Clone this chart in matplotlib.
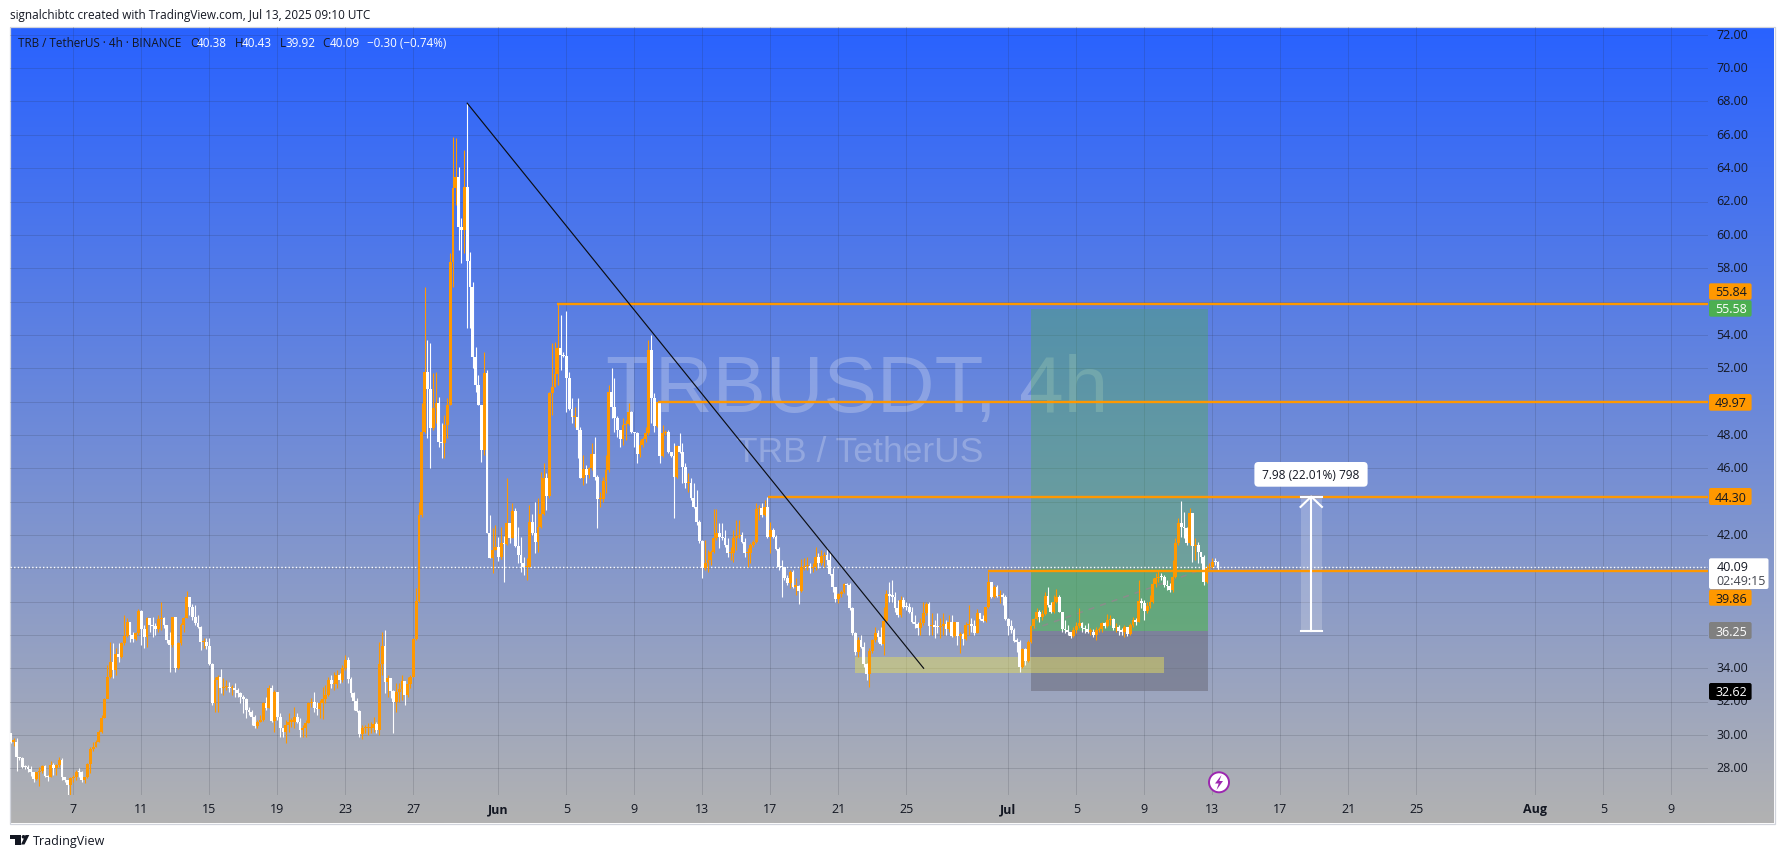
import numpy as np
import matplotlib
matplotlib.use("Agg")
import matplotlib.pyplot as plt
from matplotlib.patches import Rectangle, FancyBboxPatch, Circle, Polygon
from matplotlib.transforms import ScaledTranslation

# ---------- data: 4h candles from 3 May 2025 08:00 (open of the first bar = first_open) ----------
first_open = 30.1
closes = [
 29.6,29.6,28.65,28.6,28.1,28.05,27.95,27.75,27.35,27.75,
 27.85,28.15,27.55,27.45,28.2,28.0,28.2,28.5,27.45,27.3,
 27.0,27.4,27.45,27.8,27.75,27.3,27.45,28.25,29.15,29.3,
 29.6,30.15,31.0,32.15,33.45,34.4,33.9,34.85,34.7,35.5,
 35.95,36.8,36.0,35.75,36.1,37.45,36.35,35.9,37.0,36.6,
 36.55,36.35,36.95,37.0,36.6,35.7,35.4,37.05,34.0,35.5,
 36.6,37.0,38.3,37.7,37.05,36.7,36.5,35.55,35.6,35.35,
 34.25,31.9,33.3,33.45,32.8,32.85,32.85,32.8,32.8,32.7,
 32.5,32.3,32.15,31.5,31.4,31.1,30.55,30.8,30.9,31.9,
 31.6,32.8,30.85,32.6,31.1,30.4,30.15,30.6,30.8,30.8,
 31.1,30.8,30.3,30.4,30.7,31.9,32.0,31.6,31.55,31.9,
 32.15,32.4,33.3,33.05,33.05,33.6,33.3,34.0,34.5,33.35,
 32.5,32.05,31.45,30.05,30.4,30.4,30.4,30.4,30.65,30.3,
 34.25,35.35,33.15,33.4,32.65,32.0,32.55,32.75,33.25,32.4,
 33.05,33.5,35.75,38.05,43.2,48.2,51.8,50.75,48.4,49.6,
 49.9,47.6,47.5,48.6,49.8,58.4,62.8,63.5,60.5,60.3,
 62.9,58.45,56.9,52.7,51.0,49.8,47.1,51.7,42.1,40.6,
 41.1,41.3,40.7,41.5,41.45,42.7,41.8,43.45,41.35,40.8,
 40.3,40.05,40.05,42.8,42.1,41.6,42.45,43.25,45.4,44.35,
 50.5,50.9,51.65,53.2,52.8,52.75,51.4,49.55,49.05,49.1,
 48.3,45.4,45.95,45.6,46.0,46.85,45.5,44.15,44.15,45.25,
 45.9,50.55,49.7,49.0,48.3,47.75,48.6,48.65,49.4,48.15,
 48.1,46.85,47.4,47.75,48.1,53.1,50.2,48.55,50.0,46.75,
 48.1,48.2,46.95,46.75,45.5,47.35,47.0,46.1,45.1,45.1,
 44.2,43.65,42.8,41.65,40.0,40.3,40.5,41.0,41.8,42.1,
 41.85,41.8,41.4,40.9,40.9,41.8,41.95,42.0,41.6,40.9,
 40.9,41.4,41.55,43.55,43.6,43.2,43.7,41.9,42.3,41.9,
 41.15,40.1,40.05,39.4,39.1,39.8,38.9,38.95,38.65,40.05,
 40.15,40.15,40.0,40.05,40.65,40.3,40.75,40.8,40.5,39.65,
 38.85,38.15,38.45,38.6,39.05,39.0,37.6,36.1,34.95,35.7,
 35.3,34.25,33.65,35.05,35.7,36.1,35.85,35.45,36.85,38.45,
 38.35,38.3,37.6,37.2,38.1,37.7,37.65,37.4,36.75,36.65,
 36.4,36.7,37.3,37.85,36.55,36.55,36.5,36.45,36.55,36.65,
 36.35,36.75,35.95,36.75,35.95,36.05,35.75,36.6,36.65,36.55,
 36.1,37.3,36.95,36.85,37.65,39.2,38.3,38.9,38.35,38.4,
 38.3,36.95,36.55,36.3,35.65,35.6,34.1,35.15,34.45,35.55,
 36.55,36.95,37.4,37.05,37.25,38.35,37.8,37.4,38.0,38.25,
 37.4,36.35,36.3,36.2,35.95,36.3,36.55,36.7,36.4,36.35,
 36.2,36.2,36.0,36.3,36.35,36.7,36.55,36.9,36.95,36.4,
 36.5,36.25,36.2,36.5,36.05,36.6,36.9,36.8,38.05,37.9,
 37.45,37.75,37.95,39.05,39.4,39.5,39.45,39.0,38.95,38.7,
 39.5,41.5,42.7,42.5,42.4,41.5,43.3,41.35,41.4,40.95,
 40.7,39.15,40.0,40.1,40.4,40.38,40.09,
]
highs = [
 30.1,29.8,29.8,28.7,28.65,28.2,28.2,28.15,27.8,27.8,
 28.05,28.2,28.2,27.6,28.45,28.3,28.25,28.7,28.6,27.5,
 27.3,27.45,27.6,27.9,28.0,27.85,27.5,28.3,29.3,29.6,
 29.7,30.3,31.2,32.2,34.2,35.6,35.5,35.2,35.5,35.6,
 37.2,37.0,36.8,36.2,36.2,37.55,37.5,36.6,37.1,36.9,
 37.1,36.7,37.2,38.0,37.1,36.6,36.2,37.1,37.0,35.6,
 36.7,37.1,38.65,38.3,37.85,37.8,37.2,36.55,35.8,35.8,
 35.8,34.3,33.5,33.6,33.95,33.4,33.3,33.15,33.0,33.1,
 32.8,32.6,32.4,32.2,31.7,31.5,31.2,30.9,31.2,32.0,
 32.3,33.0,33.0,32.7,32.6,31.3,30.4,30.9,31.3,31.0,
 31.7,31.3,31.0,30.6,30.9,32.0,32.2,32.6,32.0,32.1,
 32.9,33.0,33.5,33.6,33.8,33.9,33.7,34.2,34.8,34.65,
 33.5,32.6,32.2,31.5,30.6,30.6,30.7,30.8,31.1,30.75,
 35.6,36.2,36.3,33.6,33.4,32.7,33.1,33.1,33.6,33.25,
 33.5,33.6,35.8,38.8,43.95,49.9,56.86,53.7,53.5,51.7,
 51.8,50.3,48.7,49.2,50.2,58.9,65.9,65.8,64.1,61.0,
 65.1,67.9,58.95,57.2,53.3,51.6,49.8,53.0,51.9,43.2,
 42.4,42.6,41.9,42.5,41.95,45.4,42.7,43.9,43.6,42.5,
 41.9,40.7,40.6,43.8,43.25,44.0,44.2,45.8,46.3,45.7,
 50.55,53.5,53.6,55.84,55.2,53.0,55.45,51.8,50.2,49.7,
 50.2,48.5,46.8,46.2,46.1,47.5,47.9,45.6,44.6,45.5,
 46.8,51.0,52.0,51.4,49.14,48.3,49.0,48.9,49.9,49.45,
 48.2,48.2,47.7,47.9,48.5,53.7,54.0,50.5,50.0,50.0,
 48.6,48.3,48.3,47.0,47.5,47.4,48.1,47.5,46.3,45.7,
 45.4,45.1,44.7,42.9,41.7,41.7,41.1,41.1,43.55,43.55,
 42.7,42.7,42.3,41.8,41.3,42.3,42.9,42.9,42.2,41.8,
 41.2,41.5,41.7,43.9,43.8,43.9,44.1,44.3,42.8,42.4,
 42.0,41.3,40.5,40.1,39.6,39.9,39.9,39.4,39.0,40.55,
 40.6,40.7,40.3,40.3,41.3,40.9,41.1,41.0,41.2,41.0,
 40.0,38.9,38.5,38.7,39.1,39.1,39.1,37.7,36.2,35.85,
 36.0,35.6,34.3,35.2,35.75,36.5,36.3,36.5,37.7,38.7,
 39.2,39.3,38.6,38.1,38.35,38.3,38.0,37.9,37.7,37.2,
 36.8,37.0,38.0,38.0,38.0,37.3,36.9,37.3,37.0,37.3,
 36.9,37.2,37.2,36.8,36.8,36.2,36.1,36.8,37.8,37.0,
 36.9,37.55,37.3,37.2,37.7,39.8,39.2,39.0,39.0,38.7,
 38.5,38.4,37.0,36.9,36.4,35.8,35.7,35.2,35.2,35.7,
 36.6,37.0,37.6,37.5,37.5,38.6,38.85,38.0,38.4,38.75,
 38.4,37.4,36.9,36.6,36.2,36.5,36.75,37.6,36.8,36.6,
 36.7,36.4,36.35,36.5,36.5,36.8,36.8,37.25,37.2,37.0,
 36.7,36.6,36.4,36.6,36.5,36.7,37.1,37.0,39.3,38.2,
 38.1,38.0,38.4,39.4,39.7,39.9,39.7,39.6,39.3,39.1,
 40.5,41.8,43.0,44.05,43.4,42.5,43.6,43.3,41.8,41.6,
 41.0,40.8,40.2,40.3,40.6,40.6,40.43,
]
lows = [
 29.5,29.35,27.85,28.5,28.0,27.95,27.8,27.55,27.2,27.3,
 26.95,27.7,27.45,27.25,27.45,27.6,27.6,28.1,27.3,27.2,
 26.4,26.4,27.2,27.3,27.5,27.2,27.1,27.4,27.7,29.05,
 29.25,29.55,30.1,31.0,32.2,33.4,33.4,33.6,34.4,34.6,
 35.4,35.9,35.6,35.6,35.7,36.0,35.4,35.2,35.3,36.2,
 35.85,36.0,36.2,36.3,36.4,35.5,33.75,35.3,33.75,33.95,
 35.4,36.2,37.0,37.2,36.9,36.6,36.4,35.1,35.2,35.15,
 34.2,31.8,31.4,31.35,32.5,32.4,32.7,32.55,32.4,32.3,
 32.3,31.9,31.3,31.0,31.2,30.6,30.4,30.4,30.8,30.85,
 31.5,31.6,30.8,30.2,30.9,29.9,29.9,29.5,30.2,30.5,
 30.4,30.7,29.9,29.9,29.9,30.7,31.7,31.4,31.2,31.0,
 30.95,31.9,32.35,32.8,32.7,32.8,33.1,33.2,33.9,33.1,
 32.3,31.5,31.4,29.9,29.75,30.1,30.0,30.1,30.2,30.1,
 30.0,33.6,32.5,32.3,32.2,30.1,31.4,32.0,32.1,31.8,
 32.3,32.8,33.5,35.7,38.0,43.1,48.1,47.8,46.0,48.3,
 48.7,47.3,46.6,46.6,47.8,49.8,56.9,61.8,59.1,58.3,
 58.9,54.4,54.4,52.0,50.6,49.8,46.4,46.8,42.1,40.6,
 39.7,41.1,40.45,40.55,39.2,41.4,41.5,41.8,41.3,40.3,
 39.8,39.6,39.3,40.05,42.0,40.9,41.0,42.4,43.2,43.5,
 44.2,49.2,50.9,51.0,51.9,52.7,49.4,49.5,48.7,48.5,
 46.6,45.4,45.0,45.1,45.4,45.9,45.3,42.4,43.7,44.0,
 44.5,45.8,49.0,48.2,47.9,47.3,47.4,47.7,48.6,48.1,
 47.3,46.3,46.7,47.3,47.6,48.0,48.7,48.2,48.5,46.3,
 46.7,48.0,46.9,46.7,43.0,45.4,46.9,45.1,44.8,44.6,
 44.1,43.6,42.6,41.5,39.4,39.9,39.8,40.2,40.9,41.7,
 41.2,41.7,41.3,40.7,40.5,40.4,41.1,41.8,41.5,40.7,
 40.1,40.3,41.25,41.5,42.9,43.1,43.15,41.8,40.9,41.8,
 41.1,39.9,38.3,39.3,39.0,38.8,38.8,38.4,37.85,38.6,
 39.9,39.9,39.7,39.8,39.9,40.0,40.2,40.1,40.2,39.6,
 38.6,38.0,37.9,38.3,38.5,38.4,37.5,36.0,34.8,34.7,
 35.2,34.1,33.3,32.86,34.9,35.6,35.6,35.4,34.8,36.8,
 38.0,38.0,37.4,37.1,37.1,37.6,37.5,37.3,36.7,36.4,
 36.0,36.0,36.6,37.2,36.0,36.0,35.8,36.1,35.8,36.0,
 36.0,36.2,35.9,35.9,35.4,34.9,35.4,35.7,36.0,36.2,
 36.0,36.1,36.9,36.8,36.8,37.6,38.2,38.2,38.3,37.9,
 37.8,36.9,36.0,36.1,35.55,35.0,33.8,34.0,34.2,34.4,
 35.5,36.4,36.9,36.8,36.9,37.2,37.7,37.3,37.3,37.9,
 37.35,36.2,36.1,36.0,35.8,35.9,36.1,36.4,36.2,36.1,
 36.1,36.0,35.85,35.7,36.2,36.2,36.4,36.5,36.6,36.3,
 36.2,36.0,36.0,35.9,35.95,36.0,36.5,36.6,36.8,37.6,
 36.9,37.3,37.6,37.9,38.9,39.2,39.3,38.9,38.7,38.6,
 38.6,39.4,41.4,41.9,41.8,41.4,41.4,40.4,40.5,40.3,
 40.3,39.0,39.1,39.9,40.0,40.2,39.92,
]
# x is measured in days, with May d = d (June 1 = 32, July 1 = 62, Aug 1 = 93)
first_bar_day = 3 + 8 / 24
bar_step = 4 / 24
tick_days = [7, 11, 15, 19, 23, 27, 32, 36, 40, 44, 48, 52, 56, 62, 66, 70, 74, 78, 82, 86, 93, 97, 101]
tick_labels = ['7', '11', '15', '19', '23', '27', 'Jun', '5', '9', '13', '17', '21', '25',
               'Jul', '5', '9', '13', '17', '21', '25', 'Aug', '5', '9']
price_ticks = list(range(28, 74, 2))
hidden_price_labels = [36, 38, 40, 56]  # the price scale drops these behind the value tags

# drawings
trend_day = [30.17, 57.02]
trend_price = [67.9, 34.0]
levels = [55.84, 49.97, 44.30, 39.86]
level_start_day = [35.48, 41.41, 47.85, 60.8]
last_price = 40.09
pos_days = [63.35, 73.74]
pos_target, pos_entry, pos_stop = 55.58, 36.25, 32.62
pos_progress = 39.95
zone_days = [53.0, 71.14]
zone_prices = [33.72, 34.68]
measure_day = 79.82
measure_width = 1.26
measure_prices = [36.25, 44.30]
dash_days = [63.33, 73.2]
dash_prices = [36.3, 39.85]

# ---------- styles ----------
ORANGE = '#FF9800'
W, H = 1784, 858
FONT = ['Open Sans', 'DejaVu Sans']
plt.rcParams['font.family'] = FONT
TXT = '#131722'

fig = plt.figure(figsize=(W / 100, H / 100), dpi=100, facecolor='white')

# gradient background in pixel coordinates
bg = fig.add_axes([0, 0, 1, 1], zorder=0)
bg.set_xlim(0, W); bg.set_ylim(H, 0); bg.axis('off')
grad = np.linspace(0, 1, 400)[:, None, None]
top = np.array([41, 98, 255]) / 255
bot = np.array([178, 178, 178]) / 255
bg.imshow(top + (bot - top) * grad, extent=(10, 1774, 823, 27), aspect='auto', zorder=0)
bg.set_xlim(0, W); bg.set_ylim(H, 0)
bg.add_patch(Rectangle((9.5, 26.5), 1765, 797, fill=False, ec='#D1D4DC', lw=0.9))
bg.text(857, 391, 'TRBUSDT, 4h', family='Liberation Sans', fontsize=57.6, color='white', alpha=0.24,
        ha='center', va='center')
bg.text(860, 453, 'TRB / TetherUS', family='Liberation Sans', fontsize=25.5, color='white', alpha=0.24,
        ha='center', va='center')

# main price axes
L, R, T, B = 10, 1708, 27, 795
ax = fig.add_axes([L / W, 1 - B / H, (R - L) / W, (B - T) / H], zorder=1, facecolor='none')
px_per_day = 17.0
px_per_price = 16.67
ax.set_xlim(7 - (73.3 - L) / px_per_day, 7 + (R - 73.3) / px_per_day)
ax.set_ylim(28 - (B - 768.3) / px_per_price, 28 + (768.3 - T) / px_per_price)
for s in ax.spines.values():
    s.set_visible(False)
ax.set_xticks(tick_days)
ax.set_xticklabels(tick_labels)
for lab, t in zip(ax.get_xticklabels(), tick_labels):
    lab.set_fontweight('bold' if t in ('Jun', 'Jul', 'Aug') else 'normal')
ax.set_yticks(price_ticks)
ax.set_yticklabels(['' if p in hidden_price_labels else f'{p:.2f}' for p in price_ticks])
ax.yaxis.tick_right()
ax.tick_params(axis='x', length=0, pad=6, labelsize=9, labelcolor=TXT)
ax.tick_params(axis='y', length=0, pad=6, labelsize=9, labelcolor=TXT)
lift = ScaledTranslation(0, 1.2 / 100, fig.dpi_scale_trans)
for lab in ax.get_yticklabels():
    lab.set_transform(lab.get_transform() + lift)
ax.grid(True, color='#2A2E39', alpha=0.16, lw=0.72, zorder=0)
ax.set_axisbelow(True)

# long position + zone
ax.add_patch(Rectangle((pos_days[0], pos_entry), pos_days[1] - pos_days[0], pos_target - pos_entry,
                       fc='#4CAF50', alpha=0.38, ec='none', zorder=1))
ax.add_patch(Rectangle((pos_days[0], pos_entry), pos_days[1] - pos_days[0], pos_progress - pos_entry,
                       fc='#4CAF50', alpha=0.38, ec='none', zorder=1))
ax.add_patch(Rectangle((pos_days[0], pos_stop), pos_days[1] - pos_days[0], pos_entry - pos_stop,
                       fc='#6E7080', alpha=0.6, ec='none', zorder=1))
ax.add_patch(Rectangle((zone_days[0], zone_prices[0]), zone_days[1] - zone_days[0], zone_prices[1] - zone_prices[0],
                       fc='#E2DA60', alpha=0.5, ec='none', zorder=1.5))
ax.plot(dash_days, dash_prices, color='#8C8C8C', lw=1.1, ls=(0, (4, 4)), zorder=1.6)

# candles
c = np.array(closes)
o = np.r_[first_open, c[:-1]]
h = np.array(highs)
l = np.array(lows)
d = first_bar_day + np.arange(len(c)) * bar_step
colors = [ORANGE if ci >= oi else 'white' for ci, oi in zip(c, o)]
ax.vlines(d, l, h, colors=colors, lw=0.8, zorder=3)
ax.bar(d, np.maximum(np.abs(c - o), 0.07), bottom=np.minimum(c, o), width=0.172, color=colors, lw=0, zorder=3)

# lines
ax.axhline(last_price, color='white', lw=1.0, ls=(0, (1, 1.6)), zorder=2.5)
for lv, s in zip(levels, level_start_day):
    ax.plot([s, ax.get_xlim()[1]], [lv, lv], color=ORANGE, lw=1.7, solid_capstyle='butt', zorder=4)
ax.plot(trend_day, trend_price, color='#0B0E14', lw=0.85, zorder=4)

# measure arrow
m0, m1 = measure_prices
ax.add_patch(Rectangle((measure_day - measure_width / 2, m0), measure_width, m1 - m0,
                       fc='white', alpha=0.2, ec='none', zorder=2))
ax.plot([measure_day, measure_day], [m0, m1], color='white', lw=1.5, zorder=5)
ax.plot([measure_day - measure_width / 2, measure_day + measure_width / 2], [m0, m0], color='white', lw=1.5, zorder=5)
ax.plot([measure_day - measure_width / 2, measure_day + measure_width / 2], [m1, m1], color='white', lw=1.5, zorder=5)
ax.plot([measure_day - measure_width / 2, measure_day, measure_day + measure_width / 2],
        [m1 - 0.62, m1, m1 - 0.62], color='white', lw=1.5, zorder=5)

# overlay in pixel coordinates
ov = fig.add_axes([0, 0, 1, 1], zorder=2, facecolor='none')
ov.set_xlim(0, W); ov.set_ylim(H, 0); ov.axis('off')


def box(x0, x1, y0, y1, color, r=2):
    ov.add_patch(FancyBboxPatch((x0, y0), x1 - x0, y1 - y0, boxstyle=f'round,pad=0,rounding_size={r}',
                                fc=color, ec='none', zorder=5))


for text, y0, y1, fc, tc in [('55.84', 283.3, 299.7, ORANGE, TXT), ('55.58', 300.2, 316.7, '#4CAF50', 'white'),
                             ('49.97', 394, 410.7, ORANGE, TXT), ('44.30', 488, 505, ORANGE, TXT),
                             ('39.86', 589.6, 605.7, ORANGE, TXT), ('36.25', 622, 639, '#808080', 'white'),
                             ('32.62', 683, 700, '#000000', 'white')]:
    box(1709, 1751.6, y0, y1, fc)
    ov.text(1731, (y0 + y1) / 2, text, color=tc, fontsize=9, ha='center', va='center_baseline', zorder=6)
box(1709, 1768.5, 558.3, 589, 'white')
ov.text(1716.5, 566, '40.09', color=TXT, fontsize=9, ha='left', va='center_baseline', zorder=6)
ov.text(1716.5, 580, '02:49:15', color='#43464F', fontsize=9, ha='left', va='center_baseline', zorder=6)

# measure label
box(1254.4, 1367.6, 462, 486.7, 'white', r=4)
ov.text(1311, 474, '7.98 (22.01%) 798', color=TXT, fontsize=8.6, ha='center', va='center_baseline', zorder=6)

# header
ov.text(9.6, 14.5, 'signalchibtc created with TradingView.com, Jul 13, 2025 09:10 UTC', color=TXT,
        fontsize=8.47, ha='left', va='center_baseline')
ov.text(18, 41.7, 'TRB / TetherUS · 4h · BINANCE', color=TXT, fontsize=8.4, ha='left', va='center_baseline')
for x, t, col in [(190, 'O', TXT), (197, '40.38', 'white'), (234.6, 'H', TXT), (242, '40.43', 'white'),
                  (280, 'L', TXT), (285, '39.92', 'white'), (322.6, 'C', TXT), (330, '40.09', 'white'),
                  (366.6, '−0.30 (−0.74%)', 'white')]:
    ov.text(x, 41.7, t, color=col, fontsize=8.4, ha='left', va='center_baseline')

# footer logo
ov.add_patch(Polygon([(10, 835), (21, 835), (21, 844.5), (15, 844.5), (15, 838.5), (10, 838.5)], fc=TXT, ec='none'))
ov.add_patch(Circle((23.5, 836.8), 1.8, fc=TXT, ec='none'))
ov.add_patch(Polygon([(24.5, 844.5), (21, 844.5), (25.5, 835), (29.3, 835)], fc=TXT, ec='none'))
ov.text(33, 840, 'TradingView', color=TXT, fontsize=9, ha='left', va='center_baseline')

# lightning badge
ov.add_patch(Circle((1219, 782.3), 10, fc='white', ec='#9C27B0', lw=1.4, zorder=6))
ov.add_patch(Polygon([(1221.5, 775), (1215, 783.5), (1218.7, 783.5), (1216.5, 790), (1223, 781), (1219.3, 781)],
                     fc='#9C27B0', ec='none', zorder=7))

fig.savefig('out.png', dpi=100)
